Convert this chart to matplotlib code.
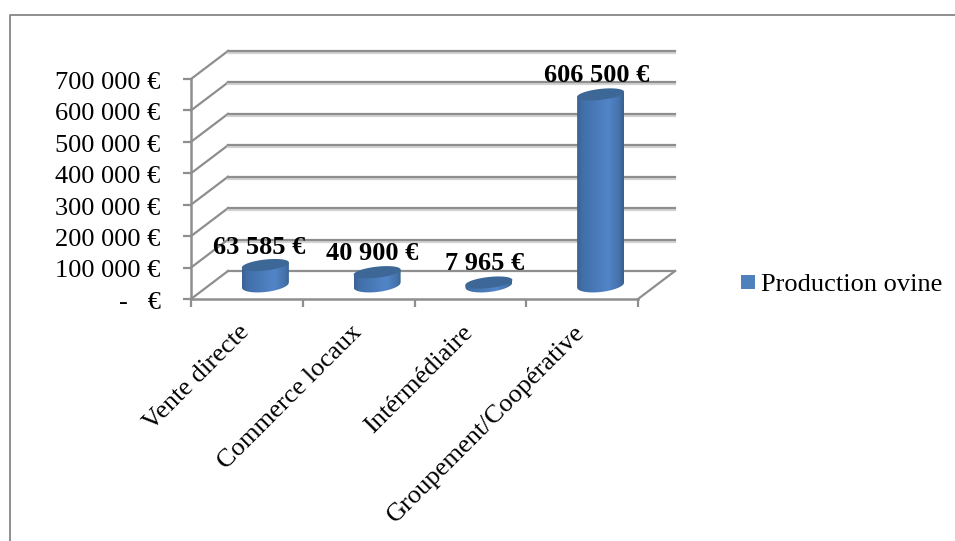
"""Recreate the 'Production ovine' pseudo-3D cylinder chart."""

import matplotlib

matplotlib.use("Agg")

import matplotlib.pyplot as plt
import matplotlib.transforms as mtransforms
import numpy as np


CATEGORIES = ["Vente directe", "Commerce locaux", "Intérmédiaire", "Groupement/Coopérative"]
VALUES = [63585, 40900, 7965, 606500]
VALUE_LABELS = ["63 585 €", "40 900 €", "7 965 €", "606 500 €"]
Y_TICKS = [0, 100000, 200000, 300000, 400000, 500000, 600000, 700000]
Y_LABELS = ["-   €", "100 000 €", "200 000 €", "300 000 €", "400 000 €",
            "500 000 €", "600 000 €", "700 000 €"]
SERIES_NAME = "Production ovine"

W, H = 955, 541
GRID = "#8e8e8e"
DEPTH_X, DEPTH_Y = 37, 28  # px from the front plane to the back wall
LABEL_NUDGE = [(-6, 18), (-5, 19), (-4, 19), (-4, 19)]  # px, label centre from cylinder top
FONT_SIZE = 19


def shading():
    """Horizontal shading across a cylinder, left to right."""
    stops_t = [-1.0, -0.75, 0.35, 0.8, 1.0]
    stops = np.array([[0x3a, 0x62, 0x94], [0x41, 0x70, 0xa9], [0x52, 0x85, 0xc8],
                      [0x44, 0x72, 0xab], [0x38, 0x5f, 0x8e]]) / 255
    t = np.linspace(-1, 1, 200)
    rgb = [np.interp(t, stops_t, stops[:, i]) for i in range(3)]
    return np.dstack(rgb)


def draw_cylinder(ax, trans, centre, value, half_w, ry, ry_low, tilt):
    t = np.linspace(-1, 1, 100)
    x = centre + t * half_w
    lower = -ry_low * np.sqrt(1 - t ** 2) + tilt * t
    outline = np.column_stack([np.r_[x, x[::-1]], np.r_[lower, (value + tilt * t)[::-1]]])
    body = plt.Polygon(outline, transform=trans, facecolor="none", edgecolor="none")
    ax.add_patch(body)
    im = ax.imshow(shading(), aspect="auto", interpolation="bilinear", zorder=4,
                   extent=[centre - half_w, centre + half_w, -ry_low - tilt, value + tilt])
    im.set_transform(trans)
    im.set_clip_path(body)

    angle = np.linspace(0, 2 * np.pi, 120)
    top_x = centre + half_w * np.cos(angle)
    top_y = value + ry * np.sin(angle) + tilt * np.cos(angle)
    ax.fill(top_x, top_y, color="#3c6796", lw=0, transform=trans, zorder=5, clip_on=False)


def main():
    plt.rcParams["font.family"] = ["Liberation Serif", "DejaVu Serif"]
    fig = plt.figure(figsize=(W / 100, H / 100), dpi=100)

    # frame of the chart area, cut off by the image on the right and at the bottom
    fig.add_artist(plt.Line2D([9.5 / W, 9.5 / W, 1], [0, 1 - 14.5 / H, 1 - 14.5 / H],
                              color=GRID, lw=1.4))

    # front plane of the plot: x 191-638 px, y 79-299 px
    ax = fig.add_axes([191 / W, 1 - 299 / H, 447 / W, 220 / H])
    ax.patch.set_visible(False)
    for side in ["top", "right", "bottom"]:
        ax.spines[side].set_visible(False)
    ax.spines["left"].set_color(GRID)
    ax.spines["left"].set_linewidth(1.8)

    n = len(CATEGORIES)
    ax.set_xlim(0, n)
    ax.set_ylim(0, 700000)

    back = mtransforms.offset_copy(ax.transData, fig=fig, x=DEPTH_X, y=DEPTH_Y, units="dots")
    mid = mtransforms.offset_copy(ax.transData, fig=fig, x=DEPTH_X / 2, y=DEPTH_Y / 2, units="dots")
    shadow = mtransforms.offset_copy(back, fig=fig, x=0, y=-2, units="dots")

    for tick in Y_TICKS:
        if tick > 0:
            ax.plot([0, n], [tick, tick], color="#d2d2d2", lw=1.6, transform=shadow,
                    clip_on=False, zorder=1)
        ax.plot([0, n], [tick, tick], color=GRID, lw=1.6, transform=back,
                clip_on=False, zorder=2)
        # diagonal from the axis to the back wall, under the axes so labels stay on top
        p0 = ax.transData.transform((0, tick))
        p1 = back.transform((0, tick))
        fig.add_artist(plt.Line2D([p0[0] / W, p1[0] / W], [p0[1] / H, p1[1] / H],
                                  color=GRID, lw=1.6, zorder=-1))
    ax.plot([0, n], [0, 0], color=GRID, lw=1.8, clip_on=False, zorder=3)
    p0 = ax.transData.transform((n, 0))
    p1 = back.transform((n, 0))
    fig.add_artist(plt.Line2D([p0[0] / W, p1[0] / W], [p0[1] / H, p1[1] / H],
                              color=GRID, lw=1.6, zorder=-1))

    half_w = 23.5 / (447 / n)
    ry = 5.5 / 220 * 700000
    ry_low = 7 / 220 * 700000
    tilt = 2.5 / 220 * 700000
    centres = np.arange(n) + 0.5
    for c, v in zip(centres, VALUES):
        draw_cylinder(ax, mid, c, v, half_w, ry, ry_low, tilt)
    ax.set_xlim(0, n)
    ax.set_ylim(0, 700000)

    for c, v, lab, (nx, ny) in zip(centres, VALUES, VALUE_LABELS, LABEL_NUDGE):
        ax.annotate(lab, (c, v), xycoords=mid, xytext=(nx * 0.72, ny * 0.72),
                    textcoords="offset points", ha="center", va="center",
                    fontsize=FONT_SIZE, fontweight="bold", color="black", zorder=6,
                    annotation_clip=False)

    ax.set_yticks(Y_TICKS)
    ax.set_yticklabels(Y_LABELS)
    ax.tick_params(axis="y", length=6, width=1.6, color=GRID, labelsize=FONT_SIZE, pad=16)
    nudge = mtransforms.ScaledTranslation(0, -1 / 72, fig.dpi_scale_trans)
    for label in ax.get_yticklabels():
        label.set_transform(label.get_transform() + nudge)
    ax.set_xticks(np.arange(n + 1))
    ax.set_xticklabels([])
    ax.tick_params(axis="x", length=6, width=1.6, color=GRID)
    for c, lab in zip(centres, CATEGORIES):
        ax.annotate(lab, (c, 0), xycoords=ax.get_xaxis_transform(), xytext=(-6, -16),
                    textcoords="offset points", rotation=45, ha="right", va="top",
                    rotation_mode="anchor", fontsize=FONT_SIZE, annotation_clip=False)

    # legend
    fig.patches.append(plt.Rectangle((741 / W, 1 - 289 / H), 14 / W, 14 / H,
                                     transform=fig.transFigure, color="#4f81bd", lw=0))
    fig.text(761 / W, 1 - 285 / H, SERIES_NAME, fontsize=FONT_SIZE, va="center", ha="left")

    fig.savefig("out.png", dpi=100)
    plt.close(fig)


if __name__ == "__main__":
    main()
